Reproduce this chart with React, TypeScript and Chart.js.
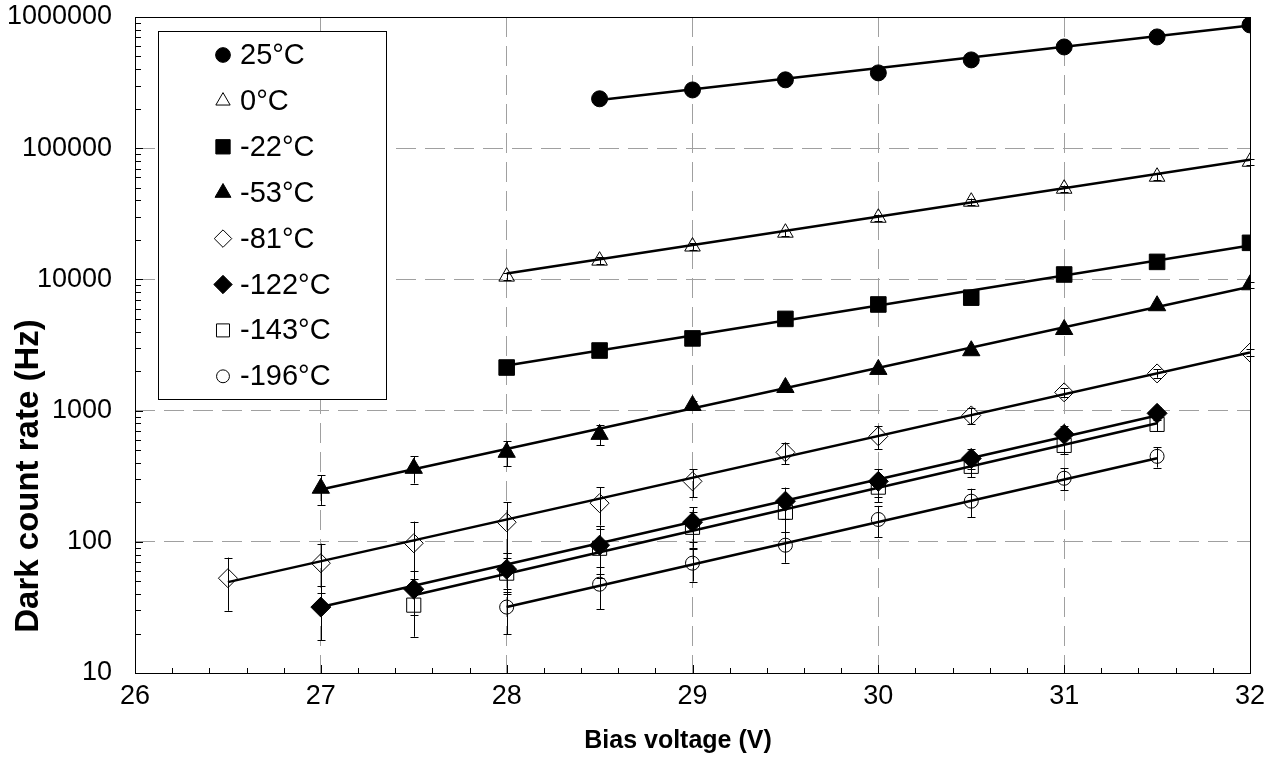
import React, { useEffect, useRef } from 'react';
import { Chart, registerables } from 'chart.js';

Chart.register(...registerables);

// ---------- data ----------
const seriesLabels = ['25°C', '0°C', '-22°C', '-53°C', '-81°C', '-122°C', '-143°C', '-196°C'];

const v25 = [28.5, 29, 29.5, 30, 30.5, 31, 31.5, 32];
const r25 = [238000, 278000, 332000, 375000, 471000, 591000, 705000, 870000];

const v0 = [28, 28.5, 29, 29.5, 30, 30.5, 31, 31.5, 32];
const r0 = [10500, 13900, 17800, 22700, 29500, 39100, 49100, 60600, 78800];
const e0 = [600, 800, 1000, 1300, 1700, 2200, 2800, 3400, 4500];

const vm22 = [28, 28.5, 29, 29.5, 30, 30.5, 31, 31.5, 32];
const rm22 = [2130, 2870, 3550, 5000, 6440, 7260, 10900, 13600, 19000];

const vm53 = [27, 27.5, 28, 28.5, 29, 29.5, 30, 30.5, 31, 31.5, 32];
const rm53 = [256, 363, 481, 659, 1094, 1500, 2060, 2860, 4150, 6300, 9100];
const em53 = [65, 85, 105, 115, 80, 100, 130, 170, 240, 330, 450];

const vm81 = [26.5, 27, 27.5, 28, 28.5, 29, 29.5, 30, 30.5, 31, 31.5, 32];
const rm81 = [52.8, 68.7, 97.5, 141, 197, 289, 481, 637, 919, 1377, 1920, 2770];
const em81 = [23, 28, 45, 59, 64, 70, 90, 130, 135, 110, 140, 180];

const vm122 = [27, 27.5, 28, 28.5, 29, 29.5, 30, 30.5, 31, 31.5];
const rm122 = [31.8, 43.5, 61.8, 94.2, 141, 204, 289, 432, 659, 953];
const em122 = [14, 16, 20, 37, 42, 55, 70, 75, 100, 110];

const vm143 = [27.5, 28, 28.5, 29, 29.5, 30, 30.5, 31, 31.5];
const rm143 = [32.9, 57.7, 89.3, 129, 168, 261, 376, 543, 785];
const em143 = [14, 18, 36, 39, 50, 60, 65, 80, 90];

const vm196 = [28, 28.5, 29, 29.5, 30, 30.5, 31, 31.5];
const rm196 = [31.8, 47.5, 68.7, 94.2, 148, 204, 305, 448];
const em196 = [12, 17, 19, 25, 40, 50, 58, 80];

// fitted trend lines: start/end voltage and rate for each series
const fitV0 = [28.5, 28, 28, 27, 26.5, 27, 27.5, 28];
const fitV1 = [32, 32, 32, 32, 32, 31.5, 31.5, 31.5];
const fitR0 = [233000, 11070, 2210, 250, 49.3, 31.8, 39.2, 31.8];
const fitR1 = [860000, 81600, 18100, 8800, 2770, 919, 800, 433];

const xTickValues = [26, 27, 28, 29, 30, 31, 32];
const yTickValues = [10, 100, 1000, 10000, 100000, 1000000];

// ---------- styling ----------
type Sty = { shape: string; r: number; filled: boolean };
const styles: Sty[] = [
  { shape: 'circle', r: 8, filled: true },
  { shape: 'triangle', r: 9, filled: false },
  { shape: 'rect', r: 11, filled: true },
  { shape: 'triangle', r: 10, filled: true },
  { shape: 'rectRot', r: 9.5, filled: false },
  { shape: 'rectRot', r: 10, filled: true },
  { shape: 'rect', r: 10, filled: false },
  { shape: 'circle', r: 7, filled: false },
];

const seriesX = [v25, v0, vm22, vm53, vm81, vm122, vm143, vm196];
const seriesY = [r25, r0, rm22, rm53, rm81, rm122, rm143, rm196];
const seriesE: (number[] | null)[] = [null, e0, null, em53, em81, em122, em143, em196];

const FONT = '"Liberation Sans", Arial, sans-serif';

function drawMarker(ctx: CanvasRenderingContext2D, shape: string, x: number, y: number, r: number, filled: boolean) {
  ctx.save();
  ctx.beginPath();
  if (shape === 'circle') {
    ctx.arc(x, y, r, 0, Math.PI * 2);
  } else if (shape === 'triangle') {
    ctx.moveTo(x, y - r);
    ctx.lineTo(x + r * 0.866, y + r / 2);
    ctx.lineTo(x - r * 0.866, y + r / 2);
    ctx.closePath();
  } else if (shape === 'rect') {
    const s = r * Math.SQRT1_2;
    ctx.rect(x - s, y - s, 2 * s, 2 * s);
  } else {
    ctx.moveTo(x, y - r);
    ctx.lineTo(x + r, y);
    ctx.lineTo(x, y + r);
    ctx.lineTo(x - r, y);
    ctx.closePath();
  }
  ctx.lineWidth = 1;
  ctx.strokeStyle = '#000';
  if (filled) {
    ctx.fillStyle = '#000';
    ctx.fill();
  }
  ctx.stroke();
  ctx.restore();
}

const framePlugin = {
  id: 'frameAndBars',
  beforeDatasetsDraw(chart: any) {
    const { ctx, chartArea: a, scales } = chart;
    const xs = scales.x;
    const ys = scales.y;
    ctx.save();
    // frame
    ctx.strokeStyle = '#000';
    ctx.lineWidth = 1;
    ctx.strokeRect(Math.round(a.left) + 0.5, Math.round(a.top) + 0.5, Math.round(a.right - a.left), Math.round(a.bottom - a.top));
    // minor / major ticks on x (inward)
    ctx.beginPath();
    for (let k = 0; k <= 30; k++) {
      const v = 26 + k * 0.2;
      const px = Math.round(xs.getPixelForValue(v)) + 0.5;
      const len = k % 5 === 0 ? 8 : 5;
      ctx.moveTo(px, a.bottom);
      ctx.lineTo(px, a.bottom - len);
    }
    // ticks on y (inward)
    for (let d = 1; d <= 6; d++) {
      for (let m = 1; m <= 9; m++) {
        const v = m * Math.pow(10, d);
        if (v > 1000000) break;
        const py = Math.round(ys.getPixelForValue(v)) + 0.5;
        const len = m === 1 ? 8 : 6;
        ctx.moveTo(a.left, py);
        ctx.lineTo(a.left + len, py);
      }
    }
    ctx.stroke();
    // error bars
    ctx.lineWidth = 1;
    ctx.strokeStyle = '#000';
    seriesE.forEach((errs, si) => {
      if (!errs) return;
      const xsArr = seriesX[si];
      const ysArr = seriesY[si];
      errs.forEach((e, i) => {
        const px = Math.round(xs.getPixelForValue(xsArr[i])) + 0.5;
        const y1 = ys.getPixelForValue(ysArr[i] + e);
        const y2 = ys.getPixelForValue(Math.max(ysArr[i] - e, 1e-3));
        ctx.beginPath();
        ctx.moveTo(px, y1);
        ctx.lineTo(px, y2);
        ctx.moveTo(px - 4, Math.round(y1) + 0.5);
        ctx.lineTo(px + 4, Math.round(y1) + 0.5);
        ctx.moveTo(px - 4, Math.round(y2) + 0.5);
        ctx.lineTo(px + 4, Math.round(y2) + 0.5);
        ctx.stroke();
      });
    });
    ctx.restore();
  },
  afterDraw(chart: any) {
    const { ctx } = chart;
    ctx.save();
    // axis titles
    ctx.fillStyle = '#000';
    ctx.font = `bold 25px ${FONT}`;
    ctx.textAlign = 'center';
    ctx.textBaseline = 'middle';
    ctx.fillText('Bias voltage (V)', 678, 741);
    ctx.translate(29, 476);
    ctx.rotate(-Math.PI / 2);
    ctx.font = `bold 33px ${FONT}`;
    ctx.fillText('Dark count rate (Hz)', 0, 0);
    ctx.restore();

    // legend
    ctx.save();
    const lx = 158, ly = 31, lw = 228, lh = 368;
    ctx.fillStyle = '#fff';
    ctx.fillRect(lx, ly, lw, lh);
    ctx.strokeStyle = '#000';
    ctx.lineWidth = 1;
    ctx.strokeRect(lx + 0.5, ly + 0.5, lw, lh);
    ctx.font = `29px ${FONT}`;
    ctx.textAlign = 'left';
    ctx.textBaseline = 'middle';
    seriesLabels.forEach((lab, i) => {
      const cy = 55 + i * 45.9;
      const st = styles[i];
      drawMarker(ctx, st.shape, 223, cy, st.r * 0.92, st.filled);
      ctx.fillStyle = '#000';
      ctx.fillText(lab, 240, cy + 1);
    });
    ctx.restore();
  },
};

export default function App() {
  const ref = useRef<HTMLCanvasElement>(null);
  useEffect(() => {
    const markerSets = seriesLabels.map((lab, i) => ({
      type: 'scatter' as const,
      label: lab,
      data: seriesX[i].map((x, j) => ({ x, y: seriesY[i][j] })),
      showLine: false,
      pointStyle: styles[i].shape,
      pointRadius: styles[i].r,
      pointBorderWidth: 1,
      pointBorderColor: '#000',
      pointBackgroundColor: styles[i].filled ? '#000' : 'rgba(0,0,0,0)',
      borderColor: '#000',
      backgroundColor: styles[i].filled ? '#000' : 'rgba(0,0,0,0)',
    }));
    const fitSets = seriesLabels.map((lab, i) => ({
      type: 'line' as const,
      label: lab + ' fit',
      data: [
        { x: fitV0[i], y: fitR0[i] },
        { x: fitV1[i], y: fitR1[i] },
      ],
      borderColor: '#000',
      borderWidth: 2.5,
      pointRadius: 0,
      fill: false,
      tension: 0,
    }));
    const chart = new Chart(ref.current as HTMLCanvasElement, {
      type: 'scatter',
      data: { datasets: [...markerSets, ...fitSets] as any },
      plugins: [framePlugin],
      options: {
        animation: false,
        responsive: false,
        devicePixelRatio: 1,
        layout: { padding: { top: 17, right: 29, left: 0, bottom: 0 } },
        plugins: { legend: { display: false }, tooltip: { enabled: false } },
        scales: {
          x: {
            type: 'linear',
            min: 26,
            max: 32,
            afterFit: (s: any) => { s.height = 89; s.paddingLeft = 0; s.paddingRight = 0; },
            afterBuildTicks: (s: any) => { s.ticks = xTickValues.map((v) => ({ value: v })); },
            ticks: {
              font: { family: FONT, size: 27 },
              color: '#000',
              padding: 7,
              maxRotation: 0,
              autoSkip: false,
              callback: (v: any) => String(v),
            },
            grid: { color: '#a0a0a0', lineWidth: 1, drawTicks: false },
            border: { display: false, dash: [20, 9] },
          },
          y: {
            type: 'logarithmic',
            min: 10,
            max: 1000000,
            afterFit: (s: any) => { s.width = 135; s.paddingTop = 0; s.paddingBottom = 0; },
            afterBuildTicks: (s: any) => { s.ticks = yTickValues.map((v) => ({ value: v })); },
            ticks: {
              font: { family: FONT, size: 27 },
              color: '#000',
              padding: 23,
              autoSkip: false,
              callback: (v: any) => String(v),
            },
            grid: { color: '#a0a0a0', lineWidth: 1, drawTicks: false },
            border: { display: false, dash: [20, 9] },
          },
        },
      },
    });
    return () => chart.destroy();
  }, []);
  return (
    <div style={{ position: 'fixed', left: 0, top: 0, width: 1279, height: 762, background: '#fff' }}>
      <canvas ref={ref} width={1279} height={762} style={{ display: 'block', width: 1279, height: 762 }} />
    </div>
  );
}
